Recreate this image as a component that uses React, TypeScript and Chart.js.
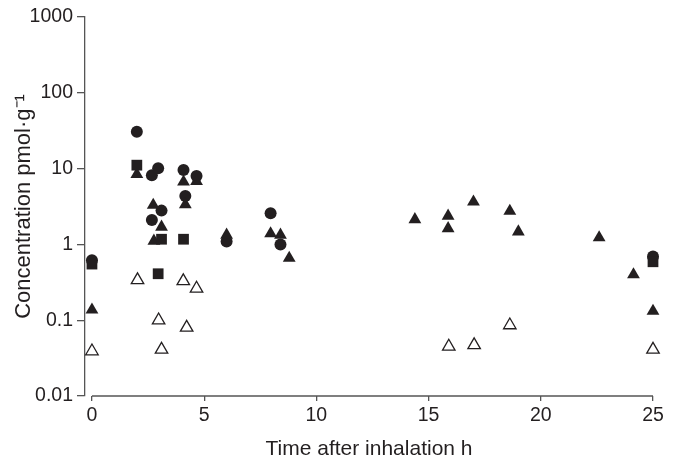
import React, { useEffect, useRef } from "react";
import { Chart, registerables } from "chart.js";

Chart.register(...registerables);

// Data (time h, concentration pmol/g)
const circleT = [0, 2.0, 2.67, 2.95, 2.67, 3.1, 4.08, 4.16, 4.66, 6.0, 7.96, 8.4, 25];
const circleC = [0.62, 30.7, 8.2, 10.1, 2.1, 2.79, 9.6, 4.35, 8.0, 1.09, 2.57, 1.0, 0.69];

const squareT = [0, 2.0, 2.95, 3.1, 4.08, 25];
const squareC = [0.55, 11.1, 0.41, 1.17, 1.17, 0.59];

const triT = [0, 2.0, 2.73, 2.76, 3.1, 4.08, 4.16, 4.66, 6.0, 7.96, 8.4, 8.79, 14.39, 15.87, 15.87, 17.0, 18.62, 19.0, 22.6, 24.13, 25];
const triC = [0.137, 8.4, 3.3, 1.11, 1.7, 6.7, 3.35, 6.8, 1.33, 1.39, 1.33, 0.66, 2.13, 2.37, 1.62, 3.65, 2.75, 1.47, 1.23, 0.4, 0.132];

const openT = [0, 2.03, 2.97, 3.1, 4.07, 4.22, 4.66, 15.9, 17.03, 18.62, 25];
const openC = [0.039, 0.338, 0.1, 0.041, 0.328, 0.08, 0.262, 0.045, 0.047, 0.086, 0.041];

const xTicks = [0, 5, 10, 15, 20, 25];
const yTicks = [0.01, 0.1, 1, 10, 100, 1000];

const xTitle = "Time after inhalation h";
const yTitle = "Concentration pmol\u00B7g\u207B\u00B9";

const INK = "#231f20";
const AXIS = "#555555";
const FONT = "'Liberation Sans', Arial, Helvetica, sans-serif";

const pts = (t: number[], c: number[]) => t.map((x, i) => ({ x, y: c[i] }));

const xAxisLine = {
  id: "xAxisLine",
  afterDraw(chart: any) {
    const { ctx, chartArea, scales } = chart;
    const x = scales.x;
    ctx.save();
    ctx.strokeStyle = AXIS;
    ctx.lineWidth = 1.3;
    ctx.beginPath();
    ctx.moveTo(x.getPixelForValue(xTicks[0]), chartArea.bottom);
    ctx.lineTo(x.getPixelForValue(xTicks[xTicks.length - 1]), chartArea.bottom);
    ctx.stroke();
    ctx.restore();
  },
};

export default function App() {
  const ref = useRef<HTMLCanvasElement>(null);
  useEffect(() => {
    if (!ref.current) return;
    const chart = new Chart(ref.current, {
      type: "scatter",
      data: {
        datasets: [
          {
            label: "open",
            data: pts(openT, openC),
            pointStyle: "triangle",
            pointRadius: 7.2,
            backgroundColor: "#ffffff",
            borderColor: INK,
            borderWidth: 1.3,
            clip: false,
          } as any,
          {
            label: "square",
            data: pts(squareT, squareC),
            pointStyle: "rect",
            pointRadius: 7.6,
            backgroundColor: INK,
            borderColor: INK,
            borderWidth: 0,
            clip: false,
          },
          {
            label: "triangle",
            data: pts(triT, triC),
            pointStyle: "triangle",
            pointRadius: 7.4,
            backgroundColor: INK,
            borderColor: INK,
            borderWidth: 0,
            clip: false,
          },
          {
            label: "circle",
            data: pts(circleT, circleC),
            pointStyle: "circle",
            pointRadius: 6,
            backgroundColor: INK,
            borderColor: INK,
            borderWidth: 0,
            clip: false,
          },
        ],
      },
      options: {
        animation: false,
        responsive: false,
        events: [],
        layout: { padding: { top: 17, right: 28, left: 0, bottom: 0 } },
        plugins: { legend: { display: false }, tooltip: { enabled: false } },
        scales: {
          x: {
            type: "linear",
            min: -0.31,
            max: 25,
            afterBuildTicks: (s: any) => {
              s.ticks = xTicks.map((v) => ({ value: v }));
            },
            afterFit: (s: any) => {
              s.height = 66;
            },
            border: { display: false },
            grid: {
              display: true,
              drawOnChartArea: false,
              drawTicks: true,
              tickLength: 5,
              color: AXIS,
              lineWidth: 1.3,
            },
            ticks: {
              color: INK,
              font: { family: FONT, size: 19.5 },
              padding: 3,
              maxRotation: 0,
              callback: (v: any) => String(v),
            },
            title: {
              display: true,
              text: xTitle,
              color: INK,
              font: { family: FONT, size: 21 },
              padding: { top: 0, bottom: 0 },
            },
          },
          y: {
            type: "logarithmic",
            min: 0.01,
            max: 1000,
            afterBuildTicks: (s: any) => {
              s.ticks = yTicks.map((v) => ({ value: v }));
            },
            afterFit: (s: any) => {
              s.width = 85;
            },
            border: { display: true, color: AXIS, width: 1.3 },
            grid: {
              display: true,
              drawOnChartArea: false,
              drawTicks: true,
              tickLength: 8,
              color: AXIS,
              lineWidth: 1.3,
            },
            ticks: {
              color: INK,
              font: { family: FONT, size: 19.5 },
              padding: 4,
              callback: (v: any) => String(v),
            },
            title: {
              display: true,
              text: yTitle,
              color: INK,
              font: { family: FONT, size: 22 },
              padding: { top: 11, bottom: 0 },
            },
          },
        },
      },
      plugins: [xAxisLine],
    });
    return () => chart.destroy();
  }, []);
  return (
    <div style={{ position: "fixed", left: 0, top: 0, width: 681, height: 462, background: "#fff" }}>
      <canvas ref={ref} width={681} height={462} />
    </div>
  );
}
